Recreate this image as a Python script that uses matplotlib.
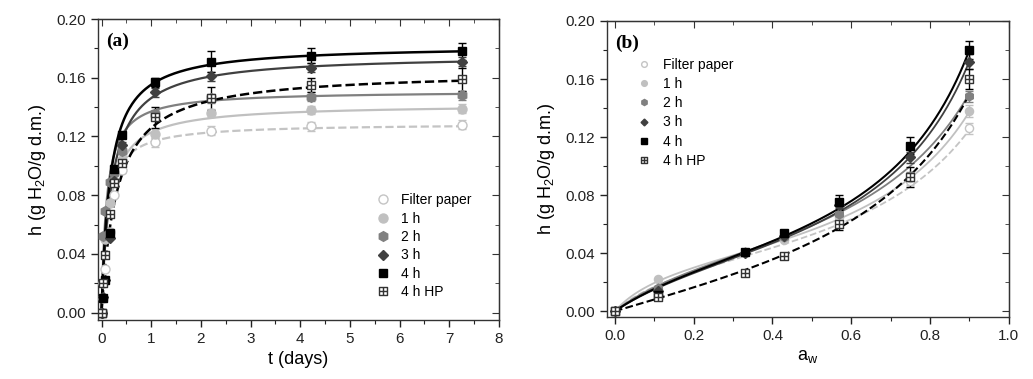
import numpy as np
import matplotlib
matplotlib.use("Agg")
import matplotlib.pyplot as plt
from matplotlib.path import Path

plt.rcParams['font.family'] = ['Liberation Sans', 'DejaVu Sans']
plt.rcParams['mathtext.fontset'] = 'custom'
plt.rcParams['mathtext.rm'] = 'Liberation Sans'

# %%
# kinetics data (panel a)
t_days = [0, 0.04, 0.08, 0.17, 0.25, 0.42, 1.08, 2.21, 4.21, 7.25]
h_filter = [0, 0.010, 0.030, 0.055, 0.080, 0.097, 0.116, 0.124, 0.127, 0.128]
h_1h = [0, 0.020, 0.050, 0.075, 0.090, 0.104, 0.122, 0.136, 0.138, 0.139]
h_2h = [0, 0.052, 0.069, 0.089, 0.095, 0.110, 0.135, 0.146, 0.147, 0.148]
h_3h = [0, 0.011, 0.022, 0.051, 0.090, 0.114, 0.150, 0.161, 0.167, 0.171]
h_4h = [0, 0.010, 0.022, 0.054, 0.098, 0.121, 0.157, 0.171, 0.175, 0.178]
h_hp = [0, 0.020, 0.039, 0.067, 0.088, 0.102, 0.133, 0.146, 0.155, 0.159]
err_filter = [0, 0, 0, 0, 0, 0.002, 0.003, 0.003, 0.003, 0.003]
err_1h = [0, 0, 0, 0, 0, 0.002, 0.003, 0.003, 0.003, 0.003]
err_2h = [0, 0, 0, 0, 0, 0.002, 0.003, 0.003, 0.003, 0.003]
err_3h = [0, 0, 0, 0, 0, 0.002, 0.003, 0.003, 0.003, 0.003]
err_4h = [0, 0, 0, 0, 0, 0.002, 0.003, 0.007, 0.005, 0.006]
err_hp = [0, 0, 0, 0, 0, 0.003, 0.007, 0.008, 0.005, 0.008]
# Peleg fit parameters h = t/(k1 + k2 t)
peleg_k1 = [0.853, 1.105, 0.679, 1.153, 0.954, 1.883]
peleg_k2 = [7.757, 7.042, 6.618, 5.689, 5.486, 6.069]

# isotherm data (panel b)
aw = [0, 0.11, 0.33, 0.43, 0.57, 0.75, 0.90]
w_filter = [0, 0.015, 0.040, 0.049, 0.065, 0.090, 0.126]
w_1h = [0, 0.022, 0.041, 0.050, 0.066, 0.092, 0.138]
w_2h = [0, 0.016, 0.041, 0.051, 0.067, 0.093, 0.148]
w_3h = [0, 0.014, 0.040, 0.052, 0.073, 0.106, 0.172]
w_4h = [0, 0.011, 0.041, 0.054, 0.075, 0.114, 0.180]
w_hp = [0, 0.010, 0.026, 0.038, 0.060, 0.0925, 0.160]
werr_filter = [0, 0, 0, 0, 0.002, 0.003, 0.004]
werr_1h = [0, 0, 0, 0, 0.002, 0.003, 0.004]
werr_2h = [0, 0, 0, 0, 0.002, 0.003, 0.004]
werr_3h = [0, 0, 0, 0, 0.002, 0.004, 0.005]
werr_4h = [0, 0.002, 0.001, 0.002, 0.005, 0.006, 0.006]
werr_hp = [0, 0.002, 0.001, 0.001, 0.004, 0.007, 0.007]
# GAB fit parameters
gab_xm = [0.038, 0.038, 0.044, 0.043, 0.044, 0.050]
gab_c = [8, 10, 6, 5, 5, 2]
gab_k = [0.79, 0.815, 0.805, 0.85, 0.855, 0.80]

labels = ["Filter paper", "1 h", "2 h", "3 h", "4 h", "4 h HP"]

# %%
# marker for "4 h HP": square with a cross inside
hp_marker = Path(
  [(-1, -1), (1, -1), (1, 1), (-1, 1), (-1, -1), (0, -1), (0, 1), (-1, 0), (1, 0)],
  [Path.MOVETO, Path.LINETO, Path.LINETO, Path.LINETO, Path.CLOSEPOLY,
   Path.MOVETO, Path.LINETO, Path.MOVETO, Path.LINETO],
)

styles = [
  dict(marker="o", mfc="white", mec="#c4c4c4", color="#c4c4c4", ls="--", ms=6.5),
  dict(marker="o", mfc="#c0c0c0", mec="#c0c0c0", color="#c0c0c0", ls="-", ms=6.5),
  dict(marker="h", mfc="#808080", mec="#808080", color="#808080", ls="-", ms=7),
  dict(marker="D", mfc="#404040", mec="#404040", color="#404040", ls="-", ms=5.5),
  dict(marker="s", mfc="black", mec="black", color="black", ls="-", ms=6),
  dict(marker=hp_marker, mfc="white", mec="#333333", color="black", ls="--", ms=6),
]

fig = plt.figure(figsize=(10.33, 3.79), dpi=100)
axa = fig.add_axes([0.0949, 0.1557, 0.388, 0.794])
axb = fig.add_axes([0.5876, 0.1636, 0.389, 0.781])


def style_axes(ax, xmaj, xmin, ymaj, ymin):
  ax.set_xticks(xmaj)
  ax.set_xticks(xmin, minor=True)
  ax.set_yticks(ymaj)
  ax.set_yticks(ymin, minor=True)
  ax.tick_params(which="both", direction="out", labelsize=11, colors="#222222")
  ax.tick_params(which="major", length=5, width=1)
  ax.tick_params(which="minor", length=3, width=0.8)
  for s in ax.spines.values():
    s.set_linewidth(1.0)
    s.set_color("#333333")
  top = ax.secondary_xaxis("top")
  top.set_xticks(xmaj)
  top.set_xticks(xmin, minor=True)
  top.tick_params(which="both", direction="in", labeltop=False, colors="#333333")
  top.tick_params(which="major", length=5)
  top.tick_params(which="minor", length=3)
  right = ax.secondary_yaxis("right")
  right.set_yticks(ymaj)
  right.set_yticks(ymin, minor=True)
  right.tick_params(which="both", direction="in", labelright=False, colors="#333333")
  right.tick_params(which="major", length=5)
  right.tick_params(which="minor", length=3)


# panel (a)
h_sets = [h_filter, h_1h, h_2h, h_3h, h_4h, h_hp]
e_sets = [err_filter, err_1h, err_2h, err_3h, err_4h, err_hp]
tt = np.linspace(0, 7.25, 400)
for h, e, k1, k2, st, lab in zip(h_sets, e_sets, peleg_k1, peleg_k2, styles, labels):
  lw = 1.8 if st["color"] == "black" else 1.6
  axa.plot(tt, tt / (k1 + k2 * tt), color=st["color"], ls=st["ls"], lw=lw, zorder=2)
  axa.errorbar(t_days, h, yerr=e, fmt="none", ecolor=st["color"], elinewidth=1,
               capsize=3, zorder=3)
  axa.plot(t_days, h, ls="none", marker=st["marker"], mfc=st["mfc"], mec=st["mec"],
           ms=st["ms"], mew=1, label=lab, zorder=4)
axa.set_xlim(-0.07, 8)
axa.set_ylim(-0.005, 0.2)
style_axes(axa, np.arange(0, 9, 1), np.arange(0, 8.5, 0.5),
           np.arange(0, 0.201, 0.04), np.arange(0, 0.201, 0.02))
axa.set_yticklabels([f"{v:.2f}" for v in np.arange(0, 0.201, 0.04)])
axa.set_xlabel("t (days)", fontsize=13, labelpad=4)
axa.set_ylabel("h (g H$_2$O/g d.m.)", fontsize=13, labelpad=6)
axa.text(0.02, 0.955, "(a)", transform=axa.transAxes, fontsize=14, fontweight="bold",
         family="Liberation Serif", va="top", ha="left")
axa.legend(loc="upper left", bbox_to_anchor=(0.68, 0.44), frameon=False, fontsize=10,
           handlelength=1.0, handletextpad=0.8, labelspacing=0.32, borderaxespad=0)

# panel (b)
w_sets = [w_filter, w_1h, w_2h, w_3h, w_4h, w_hp]
we_sets = [werr_filter, werr_1h, werr_2h, werr_3h, werr_4h, werr_hp]
aa = np.linspace(0, 0.9, 400)
for w, e, xm, c, k, st, lab in zip(w_sets, we_sets, gab_xm, gab_c, gab_k, styles, labels):
  gab = xm * c * k * aa / ((1 - k * aa) * (1 - k * aa + c * k * aa))
  lw = 1.5 if st["color"] == "black" else 1.3
  axb.plot(aa, gab, color=st["color"], ls=st["ls"], lw=lw, zorder=2)
  axb.errorbar(aw, w, yerr=e, fmt="none", ecolor=st["color"], elinewidth=1,
               capsize=3, zorder=3)
  axb.plot(aw, w, ls="none", marker=st["marker"], mfc=st["mfc"], mec=st["mec"],
           ms=st["ms"] * 0.9, mew=1, label=lab, zorder=4)
axb.set_xlim(-0.02, 1.0)
axb.set_ylim(-0.004, 0.2)
style_axes(axb, np.arange(0, 1.01, 0.2), np.arange(0, 1.01, 0.1),
           np.arange(0, 0.201, 0.04), np.arange(0, 0.201, 0.02))
axb.set_xticklabels([f"{v:.1f}" for v in np.arange(0, 1.01, 0.2)])
axb.set_yticklabels([f"{v:.2f}" for v in np.arange(0, 0.201, 0.04)])
axb.set_xlabel("a$_\\mathrm{w}$", fontsize=13, labelpad=4)
axb.set_ylabel("h (g H$_2$O/g d.m.)", fontsize=13, labelpad=6)
axb.text(0.02, 0.955, "(b)", transform=axb.transAxes, fontsize=14, fontweight="bold",
         family="Liberation Serif", va="top", ha="left")
axb.legend(loc="upper left", bbox_to_anchor=(0.06, 0.895), frameon=False, fontsize=10,
           handlelength=1.0, handletextpad=0.9, labelspacing=0.38, borderaxespad=0,
           markerscale=0.7)

fig.savefig("out.png", dpi=100)
